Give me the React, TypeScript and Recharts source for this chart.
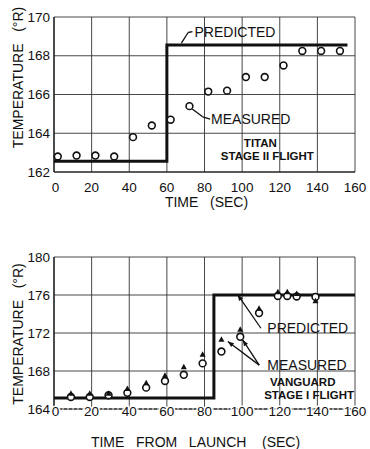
import {
  CartesianGrid,
  ComposedChart,
  Line,
  ReferenceDot,
  ReferenceLine,
  Scatter,
  XAxis,
  YAxis,
} from "recharts";

const FONT = '"Liberation Sans", Arial, sans-serif';
const INK = "#111";

// time ticks shared by both panels
const timeTicks = [0, 20, 40, 60, 80, 100, 120, 140, 160];

// Titan stage II flight
const titanTempTicks = [162, 164, 166, 168, 170];
const titanTime = [2, 12, 22, 32, 42, 52, 62, 72, 82, 92, 102, 112, 122, 132, 142, 152];
const titanMeasured = [
  162.8, 162.85, 162.85, 162.8, 163.8, 164.4, 164.7, 165.4, 166.15, 166.2, 166.9,
  166.9, 167.5, 168.25, 168.25, 168.25,
];
const titanPredTime = [0, 60, 156];
const titanPredTemp = [162.55, 168.55, 168.55];

// Vanguard stage I flight
const vanguardTempTicks = [164, 168, 172, 176, 180];
const vanguardTime = [9, 19, 29, 39, 49, 59, 69, 79, 89, 99, 109, 119, 124, 129, 139];
const vanguardCircles = [
  165.27, 165.27, 165.45, 165.7, 166.25, 166.95, 167.6, 168.8, 170.05, 171.6, 174.1,
  175.9, 175.9, 175.85, 175.8,
];
const vanguardTriangles = [
  165.6, 165.6, 165.6, 166.1, 166.7, 167.5, 168.4, 169.7, 171.3, 172.35, 174.55,
  176.3, 176.3, 176.1, 175.35,
];
const vanguardPredTime = [0, 85, 160];
const vanguardPredTemp = [165.15, 176, 176];

const zip = (ts: number[], vs: number[]) => ts.map((t, i) => ({ t, v: vs[i] }));

const titanPoints = zip(titanTime, titanMeasured);
const titanPred = zip(titanPredTime, titanPredTemp);
const vanCirclePoints = zip(vanguardTime, vanguardCircles);
const vanTrianglePoints = zip(vanguardTime, vanguardTriangles);
const vanPred = zip(vanguardPredTime, vanguardPredTemp);

const OpenCircle = (p: any) => (
  <circle cx={p.cx} cy={p.cy} r={3.4} fill="#fff" stroke={INK} strokeWidth={1.6} />
);

const Triangle = (p: any) => (
  <polygon
    points={`${p.cx},${p.cy - 3.5} ${p.cx - 3},${p.cy + 2} ${p.cx + 3},${p.cy + 2}`}
    fill={INK}
  />
);

const XTick = ({ x, y, payload, dy }: any) => (
  <text
    x={x + (payload.value === 0 ? 1.5 : 0)}
    y={y + dy}
    textAnchor="middle"
    dominantBaseline="central"
    fontFamily={FONT}
    fontSize={13.5}
    fill={INK}
    stroke="#fff"
    strokeWidth={3}
    paintOrder="stroke"
  >
    {payload.value}
  </text>
);

const YTick = ({ x, y, payload, dy = 0 }: any) => (
  <text
    x={x}
    y={y + dy}
    textAnchor="end"
    dominantBaseline="central"
    fontFamily={FONT}
    fontSize={13.5}
    fill={INK}
  >
    {payload.value}
  </text>
);

const xTitle = (value: string, dx: number, dy: number) => (p: any) => {
  const vb = p.viewBox;
  return (
    <text
      x={vb.x + vb.width / 2 + dx}
      y={vb.y + dy}
      textAnchor="middle"
      dominantBaseline="central"
      fontFamily={FONT}
      fontSize={14}
      fill={INK}
      style={{ whiteSpace: "pre" }}
    >
      {value}
    </text>
  );
};

const yTitle = (value: string, dy: number) => (p: any) => {
  const vb = p.viewBox;
  const cx = 18;
  const cy = vb.y + vb.height / 2 + dy;
  return (
    <text
      x={cx}
      y={cy}
      transform={`rotate(-90 ${cx} ${cy})`}
      textAnchor="middle"
      dominantBaseline="central"
      fontFamily={FONT}
      fontSize={14}
      fill={INK}
      style={{ whiteSpace: "pre" }}
    >
      {value}
    </text>
  );
};

// annotation text anchored at a data position
const note = (
  key: string,
  t: number,
  v: number,
  text: string,
  anchor: "start" | "middle" = "start",
  bold = false,
) => (
  <ReferenceDot
    key={key}
    x={t}
    y={v}
    r={1}
    ifOverflow="visible"
    shape={(p: any) => (
      <text
        x={p.cx}
        y={p.cy}
        textAnchor={anchor}
        dominantBaseline="central"
        fontFamily={FONT}
        fontSize={bold ? 11.5 : 14}
        fontWeight={bold ? 700 : 400}
        fill={INK}
      >
        {text}
      </text>
    )}
  />
);

const leader = (
  key: string,
  from: [number, number],
  to: [number, number],
  arrow = false,
) => (
  <ReferenceLine
    key={key}
    ifOverflow="visible"
    segment={[
      { x: from[0], y: from[1] },
      { x: to[0], y: to[1] },
    ]}
    shape={(p: any) => {
      const { x1, y1, x2, y2 } = p;
      const a = Math.atan2(y2 - y1, x2 - x1);
      const L = 6;
      const W = 2.4;
      const bx = x2 - L * Math.cos(a);
      const by = y2 - L * Math.sin(a);
      return (
        <g>
          <line x1={x1} y1={y1} x2={x2} y2={y2} stroke={INK} strokeWidth={1.3} />
          {arrow && (
            <polygon
              points={`${x2},${y2} ${bx - W * Math.sin(a)},${by + W * Math.cos(a)} ${
                bx + W * Math.sin(a)
              },${by - W * Math.cos(a)}`}
              fill={INK}
            />
          )}
        </g>
      );
    }}
  />
);

const gridProps = { stroke: "#333", strokeWidth: 0.9 };

function TitanChart() {
  return (
    <ComposedChart
      width={370}
      height={220}
      margin={{ top: 17, right: 15, bottom: 0, left: 0 }}
    >
      <CartesianGrid {...gridProps} />
      <XAxis
        type="number"
        dataKey="t"
        domain={[0, 160]}
        ticks={timeTicks}
        height={48}
        tickSize={0}
        tickLine={false}
        axisLine={{ stroke: INK, strokeWidth: 1.2 }}
        tick={<XTick dy={13} />}
        label={{ content: xTitle("TIME   (SEC)", 2, 30) }}
      />
      <YAxis
        type="number"
        dataKey="v"
        domain={[162, 170]}
        ticks={titanTempTicks}
        width={54}
        tickSize={0}
        tickMargin={4}
        tickLine={false}
        axisLine={{ stroke: INK, strokeWidth: 1.2 }}
        tick={<YTick />}
        label={{ content: yTitle("TEMPERATURE   (°R)", -17) }}
      />
      <Line
        data={titanPred}
        dataKey="v"
        type="stepAfter"
        stroke={INK}
        strokeWidth={3}
        dot={false}
        isAnimationActive={false}
      />
      <Scatter
        data={titanPoints}
        dataKey="v"
        shape={OpenCircle}
        isAnimationActive={false}
      />
      {leader("pl1", [73.6, 169.25], [71.3, 169.2])}
      {leader("pl2", [71.3, 169.2], [67.7, 168.65])}
      {leader("ml1", [83, 164.73], [79, 164.85])}
      {leader("ml2", [79, 164.85], [73.5, 165.25])}
      {note("pt", 74.7, 169.22, "PREDICTED")}
      {note("mt", 83.5, 164.73, "MEASURED")}
      {note("tt", 109.7, 163.5, "TITAN", "middle", true)}
      {note("st", 113.4, 162.83, "STAGE II FLIGHT", "middle", true)}
    </ComposedChart>
  );
}

function VanguardChart() {
  return (
    <ComposedChart
      width={370}
      height={229}
      margin={{ top: 37, right: 15, bottom: 0, left: 0 }}
    >
      <CartesianGrid {...gridProps} />
      <XAxis
        type="number"
        dataKey="t"
        domain={[0, 160]}
        ticks={timeTicks}
        height={40}
        tickSize={0}
        tickLine={false}
        axisLine={{ stroke: INK, strokeWidth: 1, strokeDasharray: "3 2" }}
        tick={<XTick dy={0.5} />}
        label={{ content: xTitle("TIME   FROM   LAUNCH    (SEC)", -9, 33) }}
      />
      <YAxis
        type="number"
        dataKey="v"
        domain={[164, 180]}
        ticks={vanguardTempTicks}
        width={54}
        tickSize={0}
        tickMargin={4}
        tickLine={false}
        axisLine={{ stroke: INK, strokeWidth: 1.2 }}
        tick={<YTick />}
        label={{ content: yTitle("TEMPERATURE   (°R)", 1) }}
      />
      <Line
        data={vanPred}
        dataKey="v"
        type="stepAfter"
        stroke={INK}
        strokeWidth={3}
        dot={false}
        isAnimationActive={false}
      />
      <Scatter
        data={vanCirclePoints}
        dataKey="v"
        shape={OpenCircle}
        isAnimationActive={false}
      />
      <Scatter
        data={vanTrianglePoints}
        dataKey="v"
        shape={Triangle}
        isAnimationActive={false}
      />
      {leader("pa", [110, 172.5], [97.6, 176.03], true)}
      {leader("ma1", [109.1, 168.62], [92.4, 171.1], true)}
      {leader("ma2", [109.1, 168.62], [100.3, 171.27], true)}
      {note("pt", 113.4, 172.5, "PREDICTED")}
      {note("mt", 113.4, 168.62, "MEASURED")}
      {note("vt", 132.2, 166.86, "VANGUARD", "middle", true)}
      {note("st", 135.6, 165.52, "STAGE I FLIGHT", "middle", true)}
    </ComposedChart>
  );
}

export default function App() {
  return (
    <div
      style={{
        position: "absolute",
        left: 0,
        top: 0,
        width: 370,
        height: 449,
        background: "#fff",
      }}
    >
      <TitanChart />
      <VanguardChart />
    </div>
  );
}
